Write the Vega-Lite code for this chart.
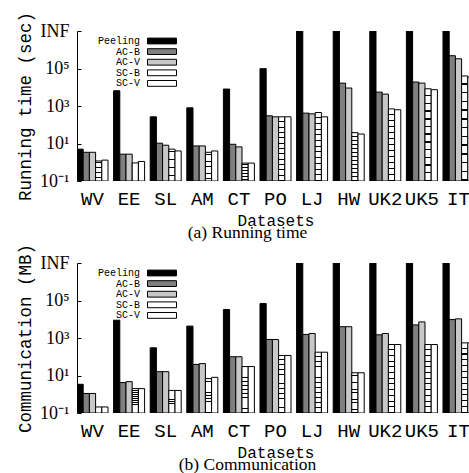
{
  "$schema": "https://vega.github.io/schema/vega-lite/v6.json",
  "padding": {"left": 15, "top": 11, "right": 0, "bottom": 0},
  "config": {
    "view": {"stroke": null},
    "axis": {"labelColor": "black", "titleColor": "black", "domainColor": "black", "tickColor": "black"}
  },
  "datasets": {
    "time": [
      {"dataset": "WV", "series": "Peeling", "value": 5}, {"dataset": "WV", "series": "AC-B", "value": 3.4}, {"dataset": "WV", "series": "AC-V", "value": 3.4}, {"dataset": "WV", "series": "SC-B", "value": 1.17}, {"dataset": "WV", "series": "SC-V", "value": 1.3},
      {"dataset": "EE", "series": "Peeling", "value": 6500}, {"dataset": "EE", "series": "AC-B", "value": 2.7}, {"dataset": "EE", "series": "AC-V", "value": 2.7}, {"dataset": "EE", "series": "SC-B", "value": 0.92}, {"dataset": "EE", "series": "SC-V", "value": 1.1},
      {"dataset": "SL", "series": "Peeling", "value": 265}, {"dataset": "SL", "series": "AC-B", "value": 10.4}, {"dataset": "SL", "series": "AC-V", "value": 8.1}, {"dataset": "SL", "series": "SC-B", "value": 5}, {"dataset": "SL", "series": "SC-V", "value": 4},
      {"dataset": "AM", "series": "Peeling", "value": 800}, {"dataset": "AM", "series": "AC-B", "value": 7.4}, {"dataset": "AM", "series": "AC-V", "value": 7.4}, {"dataset": "AM", "series": "SC-B", "value": 3.4}, {"dataset": "AM", "series": "SC-V", "value": 4},
      {"dataset": "CT", "series": "Peeling", "value": 8000}, {"dataset": "CT", "series": "AC-B", "value": 9.1}, {"dataset": "CT", "series": "AC-V", "value": 6.6}, {"dataset": "CT", "series": "SC-B", "value": 0.9}, {"dataset": "CT", "series": "SC-V", "value": 0.9},
      {"dataset": "PO", "series": "Peeling", "value": 98000}, {"dataset": "PO", "series": "AC-B", "value": 300}, {"dataset": "PO", "series": "AC-V", "value": 265}, {"dataset": "PO", "series": "SC-B", "value": 265}, {"dataset": "PO", "series": "SC-V", "value": 265},
      {"dataset": "LJ", "series": "Peeling", "value": 10000000}, {"dataset": "LJ", "series": "AC-B", "value": 417}, {"dataset": "LJ", "series": "AC-V", "value": 380}, {"dataset": "LJ", "series": "SC-B", "value": 450}, {"dataset": "LJ", "series": "SC-V", "value": 265},
      {"dataset": "HW", "series": "Peeling", "value": 10000000}, {"dataset": "HW", "series": "AC-B", "value": 16600}, {"dataset": "HW", "series": "AC-V", "value": 9100}, {"dataset": "HW", "series": "SC-B", "value": 38}, {"dataset": "HW", "series": "SC-V", "value": 32},
      {"dataset": "UK2", "series": "Peeling", "value": 10000000}, {"dataset": "UK2", "series": "AC-B", "value": 5500}, {"dataset": "UK2", "series": "AC-V", "value": 4300}, {"dataset": "UK2", "series": "SC-B", "value": 700}, {"dataset": "UK2", "series": "SC-V", "value": 630},
      {"dataset": "UK5", "series": "Peeling", "value": 10000000}, {"dataset": "UK5", "series": "AC-B", "value": 19000}, {"dataset": "UK5", "series": "AC-V", "value": 16600}, {"dataset": "UK5", "series": "SC-B", "value": 8300}, {"dataset": "UK5", "series": "SC-V", "value": 7400},
      {"dataset": "IT", "series": "Peeling", "value": 10000000}, {"dataset": "IT", "series": "AC-B", "value": 480000}, {"dataset": "IT", "series": "AC-V", "value": 330000}, {"dataset": "IT", "series": "SC-B", "value": 40000}, {"dataset": "IT", "series": "SC-V", "value": 35000}
    ],
    "comm": [
      {"dataset": "WV", "series": "Peeling", "value": 3.4}, {"dataset": "WV", "series": "AC-B", "value": 1.1}, {"dataset": "WV", "series": "AC-V", "value": 1.1}, {"dataset": "WV", "series": "SC-B", "value": 0.21}, {"dataset": "WV", "series": "SC-V", "value": 0.21},
      {"dataset": "EE", "series": "Peeling", "value": 8900}, {"dataset": "EE", "series": "AC-B", "value": 4.2}, {"dataset": "EE", "series": "AC-V", "value": 4.7}, {"dataset": "EE", "series": "SC-B", "value": 2.0}, {"dataset": "EE", "series": "SC-V", "value": 2.0},
      {"dataset": "SL", "series": "Peeling", "value": 300}, {"dataset": "SL", "series": "AC-B", "value": 16}, {"dataset": "SL", "series": "AC-V", "value": 16}, {"dataset": "SL", "series": "SC-B", "value": 1.6}, {"dataset": "SL", "series": "SC-V", "value": 1.6},
      {"dataset": "AM", "series": "Peeling", "value": 4300}, {"dataset": "AM", "series": "AC-B", "value": 39}, {"dataset": "AM", "series": "AC-V", "value": 43}, {"dataset": "AM", "series": "SC-B", "value": 6.8}, {"dataset": "AM", "series": "SC-V", "value": 8},
      {"dataset": "CT", "series": "Peeling", "value": 33000}, {"dataset": "CT", "series": "AC-B", "value": 100}, {"dataset": "CT", "series": "AC-V", "value": 100}, {"dataset": "CT", "series": "SC-B", "value": 30}, {"dataset": "CT", "series": "SC-V", "value": 30},
      {"dataset": "PO", "series": "Peeling", "value": 69000}, {"dataset": "PO", "series": "AC-B", "value": 830}, {"dataset": "PO", "series": "AC-V", "value": 830}, {"dataset": "PO", "series": "SC-B", "value": 117}, {"dataset": "PO", "series": "SC-V", "value": 117},
      {"dataset": "LJ", "series": "Peeling", "value": 10000000}, {"dataset": "LJ", "series": "AC-B", "value": 1550}, {"dataset": "LJ", "series": "AC-V", "value": 1740}, {"dataset": "LJ", "series": "SC-B", "value": 175}, {"dataset": "LJ", "series": "SC-V", "value": 175},
      {"dataset": "HW", "series": "Peeling", "value": 10000000}, {"dataset": "HW", "series": "AC-B", "value": 4000}, {"dataset": "HW", "series": "AC-V", "value": 4000}, {"dataset": "HW", "series": "SC-B", "value": 14}, {"dataset": "HW", "series": "SC-V", "value": 14},
      {"dataset": "UK2", "series": "Peeling", "value": 10000000}, {"dataset": "UK2", "series": "AC-B", "value": 1480}, {"dataset": "UK2", "series": "AC-V", "value": 1740}, {"dataset": "UK2", "series": "SC-B", "value": 450}, {"dataset": "UK2", "series": "SC-V", "value": 450},
      {"dataset": "UK5", "series": "Peeling", "value": 10000000}, {"dataset": "UK5", "series": "AC-B", "value": 5000}, {"dataset": "UK5", "series": "AC-V", "value": 7200}, {"dataset": "UK5", "series": "SC-B", "value": 450}, {"dataset": "UK5", "series": "SC-V", "value": 450},
      {"dataset": "IT", "series": "Peeling", "value": 10000000}, {"dataset": "IT", "series": "AC-B", "value": 9600}, {"dataset": "IT", "series": "AC-V", "value": 10500}, {"dataset": "IT", "series": "SC-B", "value": 550}, {"dataset": "IT", "series": "SC-V", "value": 550}
    ]
  },
  "spacing": 1,
  "resolve": {"scale": {"fill": "independent"}, "legend": {"fill": "independent"}},
  "vconcat": [
    {
      "width": 393, "height": 150,
      "title": {"text": "(a) Running time", "orient": "bottom", "anchor": "middle", "font": "Liberation Serif", "fontSize": 17.5, "fontWeight": "normal", "color": "black", "dx": -26, "offset": -4},
      "layer": [
        {
          "data": {"name": "time"},
          "mark": {"type": "bar", "clip": true, "stroke": "black", "strokeWidth": 1},
          "encoding": {
            "x": {"field": "dataset", "type": "nominal", "sort": ["WV","EE","SL","AM","CT","PO","LJ","HW","UK2","UK5","IT"],
              "scale": {"rangeMax": 397, "paddingInner": 0.153, "paddingOuter": 0},
              "axis": {"title": "Datasets", "labelAngle": 0, "ticks": false, "domain": false, "bandPosition": 0.59, "labelFont": "Liberation Mono", "labelFontSize": 19, "labelPadding": 8, "titleFont": "Liberation Mono", "titleFontSize": 16, "titleFontWeight": "normal", "titlePadding": 4}},
            "xOffset": {"field": "series", "type": "nominal", "sort": ["Peeling","AC-B","AC-V","SC-B","SC-V"], "scale": {"paddingInner": 0, "paddingOuter": 0}},
            "y": {"field": "value", "type": "quantitative", "scale": {"type": "log", "domain": [0.1, 10000000]},
              "axis": {"title": "Running time (sec)", "values": [0.1, 10, 1000, 100000, 10000000], "labelExpr": "datum.value >= 1e7 ? 'INF' : datum.value >= 1e5 ? '10⁵' : datum.value >= 1e3 ? '10³' : datum.value >= 10 ? '10¹' : '10⁻¹'", "grid": false, "tickSize": -4, "labelPadding": 12, "labelFont": "Liberation Serif", "labelFontSize": 18, "titleFont": "Liberation Mono", "titleFontSize": 17.5, "titleFontWeight": "normal", "titleX": -52, "titleBaseline": "middle"}},
            "y2": {"datum": 0.1},
            "fill": {
              "condition": {"test": "datum.series === 'SC-B'", "value": {"gradient": "linear", "x1": 0, "y1": 0, "x2": 0, "y2": 1, "stops": [
                  {"offset": 0, "color": "#ffffff"}, {"offset": 0.068, "color": "#ffffff"}, {"offset": 0.068, "color": "#000000"}, {"offset": 0.0833, "color": "#000000"},
                  {"offset": 0.0833, "color": "#ffffff"}, {"offset": 0.1513, "color": "#ffffff"}, {"offset": 0.1513, "color": "#000000"}, {"offset": 0.1667, "color": "#000000"},
                  {"offset": 0.1667, "color": "#ffffff"}, {"offset": 0.2347, "color": "#ffffff"}, {"offset": 0.2347, "color": "#000000"}, {"offset": 0.25, "color": "#000000"},
                  {"offset": 0.25, "color": "#ffffff"}, {"offset": 0.318, "color": "#ffffff"}, {"offset": 0.318, "color": "#000000"}, {"offset": 0.3333, "color": "#000000"},
                  {"offset": 0.3333, "color": "#ffffff"}, {"offset": 0.4013, "color": "#ffffff"}, {"offset": 0.4013, "color": "#000000"}, {"offset": 0.4167, "color": "#000000"},
                  {"offset": 0.4167, "color": "#ffffff"}, {"offset": 0.4847, "color": "#ffffff"}, {"offset": 0.4847, "color": "#000000"}, {"offset": 0.5, "color": "#000000"},
                  {"offset": 0.5, "color": "#ffffff"}, {"offset": 0.568, "color": "#ffffff"}, {"offset": 0.568, "color": "#000000"}, {"offset": 0.5833, "color": "#000000"},
                  {"offset": 0.5833, "color": "#ffffff"}, {"offset": 0.6513, "color": "#ffffff"}, {"offset": 0.6513, "color": "#000000"}, {"offset": 0.6667, "color": "#000000"},
                  {"offset": 0.6667, "color": "#ffffff"}, {"offset": 0.7347, "color": "#ffffff"}, {"offset": 0.7347, "color": "#000000"}, {"offset": 0.75, "color": "#000000"},
                  {"offset": 0.75, "color": "#ffffff"}, {"offset": 0.818, "color": "#ffffff"}, {"offset": 0.818, "color": "#000000"}, {"offset": 0.8333, "color": "#000000"},
                  {"offset": 0.8333, "color": "#ffffff"}, {"offset": 0.9013, "color": "#ffffff"}, {"offset": 0.9013, "color": "#000000"}, {"offset": 0.9167, "color": "#000000"},
                  {"offset": 0.9167, "color": "#ffffff"}, {"offset": 0.9847, "color": "#ffffff"}, {"offset": 0.9847, "color": "#000000"}, {"offset": 1, "color": "#000000"}
                ]}},
              "field": "series", "type": "nominal",
              "scale": {"domain": ["Peeling","AC-B","AC-V","SC-B","SC-V"], "range": ["#000000", "#7f7f7f", "#c8c8c8", "#ffffff", "#ffffff"]},
              "legend": {"orient": "none", "legendX": 80, "legendY": 5, "title": null, "symbolType": "M-4,-0.8H4V0.8H-4Z", "symbolSize": 52.6, "symbolStrokeColor": "black", "symbolStrokeWidth": 1, "symbolOpacity": 1, "labelFont": "Liberation Mono", "labelFontSize": 10, "labelColor": "black", "labelAlign": "right", "labelOffset": -27, "rowPadding": 0.6, "padding": 0,
                "encode": {"symbols": {"update": {
                  "stroke": {"value": "#000000"}, "strokeWidth": {"value": 1}, "opacity": {"value": 1},
                  "fill": [
                  {"test": "datum.value === 'SC-B'", "value": {"gradient": "linear", "x1": 0, "y1": 0, "x2": 1, "y2": 0.2, "stops": [
                    {"offset": 0, "color": "#ffffff"}, {"offset": 0.117, "color": "#ffffff"}, {"offset": 0.117, "color": "#000000"}, {"offset": 0.1667, "color": "#000000"},
                    {"offset": 0.1667, "color": "#ffffff"}, {"offset": 0.2833, "color": "#ffffff"}, {"offset": 0.2833, "color": "#000000"}, {"offset": 0.3333, "color": "#000000"},
                    {"offset": 0.3333, "color": "#ffffff"}, {"offset": 0.45, "color": "#ffffff"}, {"offset": 0.45, "color": "#000000"}, {"offset": 0.5, "color": "#000000"},
                    {"offset": 0.5, "color": "#ffffff"}, {"offset": 0.6167, "color": "#ffffff"}, {"offset": 0.6167, "color": "#000000"}, {"offset": 0.6667, "color": "#000000"},
                    {"offset": 0.6667, "color": "#ffffff"}, {"offset": 0.7833, "color": "#ffffff"}, {"offset": 0.7833, "color": "#000000"}, {"offset": 0.8333, "color": "#000000"},
                    {"offset": 0.8333, "color": "#ffffff"}, {"offset": 0.95, "color": "#ffffff"}, {"offset": 0.95, "color": "#000000"}, {"offset": 1, "color": "#000000"}
                  ]}},
                  {"test": "datum.value === 'Peeling'", "value": "#000000"},
                  {"test": "datum.value === 'AC-B'", "value": "#7f7f7f"},
                  {"test": "datum.value === 'AC-V'", "value": "#c8c8c8"},
                  {"value": "#ffffff"}
                ]}}}}}
          }
        },
        {"mark": {"type": "rule", "color": "black", "strokeWidth": 1}, "encoding": {"y": {"datum": 10000000}}},
        {"mark": {"type": "rule", "color": "black", "strokeWidth": 1}, "encoding": {"y": {"datum": 0.1}}}
      ]
    },
    {
      "width": 393, "height": 150,
      "title": {"text": "(b) Communication", "orient": "bottom", "anchor": "middle", "font": "Liberation Serif", "fontSize": 17.5, "fontWeight": "normal", "color": "black", "dx": -26, "offset": -4},
      "layer": [
        {
          "data": {"name": "comm"},
          "mark": {"type": "bar", "clip": true, "stroke": "black", "strokeWidth": 1},
          "encoding": {
            "x": {"field": "dataset", "type": "nominal", "sort": ["WV","EE","SL","AM","CT","PO","LJ","HW","UK2","UK5","IT"],
              "scale": {"rangeMax": 397, "paddingInner": 0.153, "paddingOuter": 0},
              "axis": {"title": "Datasets", "labelAngle": 0, "ticks": false, "domain": false, "bandPosition": 0.59, "labelFont": "Liberation Mono", "labelFontSize": 19, "labelPadding": 8, "titleFont": "Liberation Mono", "titleFontSize": 16, "titleFontWeight": "normal", "titlePadding": 4}},
            "xOffset": {"field": "series", "type": "nominal", "sort": ["Peeling","AC-B","AC-V","SC-B","SC-V"], "scale": {"paddingInner": 0, "paddingOuter": 0}},
            "y": {"field": "value", "type": "quantitative", "scale": {"type": "log", "domain": [0.1, 10000000]},
              "axis": {"title": "Communication (MB)", "values": [0.1, 10, 1000, 100000, 10000000], "labelExpr": "datum.value >= 1e7 ? 'INF' : datum.value >= 1e5 ? '10⁵' : datum.value >= 1e3 ? '10³' : datum.value >= 10 ? '10¹' : '10⁻¹'", "grid": false, "tickSize": -4, "labelPadding": 12, "labelFont": "Liberation Serif", "labelFontSize": 18, "titleFont": "Liberation Mono", "titleFontSize": 17.5, "titleFontWeight": "normal", "titleX": -52, "titleBaseline": "middle"}},
            "y2": {"datum": 0.1},
            "fill": {
              "condition": {"test": "datum.series === 'SC-B'", "value": {"gradient": "linear", "x1": 0, "y1": 0, "x2": 0, "y2": 1, "stops": [
                  {"offset": 0, "color": "#ffffff"}, {"offset": 0.068, "color": "#ffffff"}, {"offset": 0.068, "color": "#000000"}, {"offset": 0.0833, "color": "#000000"},
                  {"offset": 0.0833, "color": "#ffffff"}, {"offset": 0.1513, "color": "#ffffff"}, {"offset": 0.1513, "color": "#000000"}, {"offset": 0.1667, "color": "#000000"},
                  {"offset": 0.1667, "color": "#ffffff"}, {"offset": 0.2347, "color": "#ffffff"}, {"offset": 0.2347, "color": "#000000"}, {"offset": 0.25, "color": "#000000"},
                  {"offset": 0.25, "color": "#ffffff"}, {"offset": 0.318, "color": "#ffffff"}, {"offset": 0.318, "color": "#000000"}, {"offset": 0.3333, "color": "#000000"},
                  {"offset": 0.3333, "color": "#ffffff"}, {"offset": 0.4013, "color": "#ffffff"}, {"offset": 0.4013, "color": "#000000"}, {"offset": 0.4167, "color": "#000000"},
                  {"offset": 0.4167, "color": "#ffffff"}, {"offset": 0.4847, "color": "#ffffff"}, {"offset": 0.4847, "color": "#000000"}, {"offset": 0.5, "color": "#000000"},
                  {"offset": 0.5, "color": "#ffffff"}, {"offset": 0.568, "color": "#ffffff"}, {"offset": 0.568, "color": "#000000"}, {"offset": 0.5833, "color": "#000000"},
                  {"offset": 0.5833, "color": "#ffffff"}, {"offset": 0.6513, "color": "#ffffff"}, {"offset": 0.6513, "color": "#000000"}, {"offset": 0.6667, "color": "#000000"},
                  {"offset": 0.6667, "color": "#ffffff"}, {"offset": 0.7347, "color": "#ffffff"}, {"offset": 0.7347, "color": "#000000"}, {"offset": 0.75, "color": "#000000"},
                  {"offset": 0.75, "color": "#ffffff"}, {"offset": 0.818, "color": "#ffffff"}, {"offset": 0.818, "color": "#000000"}, {"offset": 0.8333, "color": "#000000"},
                  {"offset": 0.8333, "color": "#ffffff"}, {"offset": 0.9013, "color": "#ffffff"}, {"offset": 0.9013, "color": "#000000"}, {"offset": 0.9167, "color": "#000000"},
                  {"offset": 0.9167, "color": "#ffffff"}, {"offset": 0.9847, "color": "#ffffff"}, {"offset": 0.9847, "color": "#000000"}, {"offset": 1, "color": "#000000"}
                ]}},
              "field": "series", "type": "nominal",
              "scale": {"domain": ["Peeling","AC-B","AC-V","SC-B","SC-V"], "range": ["#000000", "#7f7f7f", "#c8c8c8", "#ffffff", "#ffffff"]},
              "legend": {"orient": "none", "legendX": 80, "legendY": 5, "title": null, "symbolType": "M-4,-0.8H4V0.8H-4Z", "symbolSize": 52.6, "symbolStrokeColor": "black", "symbolStrokeWidth": 1, "symbolOpacity": 1, "labelFont": "Liberation Mono", "labelFontSize": 10, "labelColor": "black", "labelAlign": "right", "labelOffset": -27, "rowPadding": 0.6, "padding": 0,
                "encode": {"symbols": {"update": {
                  "stroke": {"value": "#000000"}, "strokeWidth": {"value": 1}, "opacity": {"value": 1},
                  "fill": [
                  {"test": "datum.value === 'SC-B'", "value": {"gradient": "linear", "x1": 0, "y1": 0, "x2": 1, "y2": 0.2, "stops": [
                    {"offset": 0, "color": "#ffffff"}, {"offset": 0.117, "color": "#ffffff"}, {"offset": 0.117, "color": "#000000"}, {"offset": 0.1667, "color": "#000000"},
                    {"offset": 0.1667, "color": "#ffffff"}, {"offset": 0.2833, "color": "#ffffff"}, {"offset": 0.2833, "color": "#000000"}, {"offset": 0.3333, "color": "#000000"},
                    {"offset": 0.3333, "color": "#ffffff"}, {"offset": 0.45, "color": "#ffffff"}, {"offset": 0.45, "color": "#000000"}, {"offset": 0.5, "color": "#000000"},
                    {"offset": 0.5, "color": "#ffffff"}, {"offset": 0.6167, "color": "#ffffff"}, {"offset": 0.6167, "color": "#000000"}, {"offset": 0.6667, "color": "#000000"},
                    {"offset": 0.6667, "color": "#ffffff"}, {"offset": 0.7833, "color": "#ffffff"}, {"offset": 0.7833, "color": "#000000"}, {"offset": 0.8333, "color": "#000000"},
                    {"offset": 0.8333, "color": "#ffffff"}, {"offset": 0.95, "color": "#ffffff"}, {"offset": 0.95, "color": "#000000"}, {"offset": 1, "color": "#000000"}
                  ]}},
                  {"test": "datum.value === 'Peeling'", "value": "#000000"},
                  {"test": "datum.value === 'AC-B'", "value": "#7f7f7f"},
                  {"test": "datum.value === 'AC-V'", "value": "#c8c8c8"},
                  {"value": "#ffffff"}
                ]}}}}}
          }
        },
        {"mark": {"type": "rule", "color": "black", "strokeWidth": 1}, "encoding": {"y": {"datum": 10000000}}},
        {"mark": {"type": "rule", "color": "black", "strokeWidth": 1}, "encoding": {"y": {"datum": 0.1}}}
      ]
    }
  ]
}
